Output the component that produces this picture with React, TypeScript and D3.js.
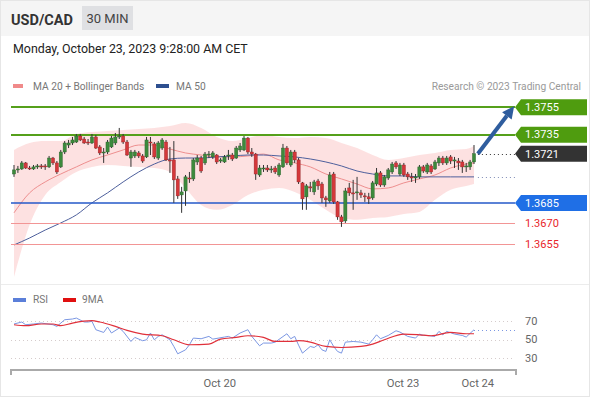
import React from 'react';
import * as d3 from 'd3';

// ---------- price data (30 min candles) ----------
const opens = [1.37062,1.37092,1.37099,1.37143,1.37106,1.37099,1.37114,1.37121,1.37121,1.37114,1.37179,1.37143,1.37114,1.37223,1.37274,1.37289,1.37296,1.37340,1.37318,1.37296,1.37289,1.37333,1.37260,1.37216,1.37223,1.37260,1.37289,1.37333,1.37340,1.37296,1.37179,1.37194,1.37216,1.37194,1.37187,1.37296,1.37282,1.37179,1.37252,1.37296,1.37165,1.37165,1.37026,1.36909,1.36938,1.37033,1.37026,1.37150,1.37179,1.37143,1.37201,1.37187,1.37201,1.37157,1.37150,1.37194,1.37201,1.37179,1.37238,1.37238,1.37325,1.37223,1.37208,1.37055,1.37099,1.37106,1.37092,1.37106,1.37055,1.37114,1.37252,1.37128,1.37223,1.37165,1.36997,1.36895,1.36968,1.36931,1.37011,1.36989,1.36887,1.36865,1.37062,1.36858,1.36748,1.36719,1.36960,1.36924,1.36924,1.36924,1.36902,1.36895,1.36887,1.36989,1.37070,1.36982,1.37033,1.37077,1.37143,1.37062,1.37128,1.37062,1.37041,1.37033,1.37041,1.37114,1.37077,1.37121,1.37099,1.37143,1.37179,1.37143,1.37187,1.37157,1.37157,1.37150,1.37114,1.37114,1.37150];
const highs = [1.37128,1.37121,1.37157,1.37150,1.37121,1.37128,1.37135,1.37135,1.37135,1.37194,1.37187,1.37157,1.37238,1.37303,1.37311,1.37333,1.37355,1.37355,1.37333,1.37318,1.37355,1.37347,1.37274,1.37252,1.37311,1.37340,1.37362,1.37399,1.37355,1.37311,1.37238,1.37238,1.37230,1.37208,1.37333,1.37333,1.37296,1.37303,1.37325,1.37311,1.37260,1.37303,1.37048,1.36968,1.37055,1.37077,1.37179,1.37201,1.37194,1.37223,1.37230,1.37230,1.37208,1.37179,1.37201,1.37238,1.37216,1.37267,1.37289,1.37340,1.37333,1.37252,1.37216,1.37128,1.37128,1.37128,1.37121,1.37121,1.37143,1.37282,1.37267,1.37238,1.37238,1.37179,1.37004,1.36989,1.37004,1.37019,1.37026,1.37004,1.36902,1.37077,1.37077,1.36865,1.36763,1.36960,1.36997,1.37019,1.37041,1.36946,1.36924,1.36924,1.37011,1.37106,1.37084,1.37055,1.37106,1.37150,1.37157,1.37143,1.37143,1.37077,1.37070,1.37062,1.37128,1.37128,1.37143,1.37135,1.37165,1.37194,1.37194,1.37194,1.37201,1.37187,1.37179,1.37165,1.37143,1.37165,1.37274];
const lows = [1.37041,1.37070,1.37092,1.37099,1.37092,1.37092,1.37099,1.37099,1.37092,1.37106,1.37128,1.37062,1.37106,1.37208,1.37252,1.37274,1.37289,1.37303,1.37282,1.37274,1.37282,1.37245,1.37201,1.37143,1.37208,1.37252,1.37274,1.37318,1.37282,1.37194,1.37114,1.37179,1.37179,1.37143,1.37179,1.37201,1.37172,1.37165,1.37238,1.37157,1.37070,1.36851,1.36880,1.36778,1.36829,1.36997,1.37011,1.37128,1.37070,1.37128,1.37179,1.37172,1.37135,1.37143,1.37143,1.37165,1.37157,1.37172,1.37223,1.37230,1.37208,1.37187,1.37019,1.37041,1.37077,1.37077,1.37070,1.37062,1.37041,1.37106,1.37128,1.37114,1.37143,1.36989,1.36800,1.36800,1.36931,1.36909,1.36946,1.36851,1.36822,1.36851,1.36843,1.36727,1.36675,1.36704,1.36902,1.36800,1.36873,1.36887,1.36858,1.36843,1.36873,1.36975,1.36968,1.36968,1.37019,1.37062,1.37099,1.37048,1.37041,1.37019,1.37004,1.36997,1.37026,1.37070,1.37062,1.37062,1.37092,1.37121,1.37128,1.37128,1.37135,1.37106,1.37092,1.37070,1.37077,1.37092,1.37135];
const closes = [1.37092,1.37099,1.37143,1.37106,1.37099,1.37114,1.37121,1.37118,1.37114,1.37179,1.37143,1.37077,1.37223,1.37289,1.37289,1.37311,1.37340,1.37311,1.37289,1.37292,1.37333,1.37252,1.37216,1.37223,1.37296,1.37325,1.37333,1.37340,1.37296,1.37201,1.37223,1.37223,1.37194,1.37157,1.37311,1.37289,1.37187,1.37289,1.37311,1.37165,1.37157,1.37019,1.36902,1.36931,1.37041,1.37026,1.37165,1.37179,1.37084,1.37208,1.37208,1.37216,1.37150,1.37165,1.37187,1.37201,1.37172,1.37252,1.37267,1.37325,1.37223,1.37208,1.37062,1.37106,1.37106,1.37092,1.37099,1.37077,1.37128,1.37252,1.37143,1.37223,1.37165,1.37004,1.36880,1.36975,1.36960,1.37004,1.36975,1.36887,1.36873,1.37055,1.36858,1.36748,1.36712,1.36938,1.36924,1.36916,1.36931,1.36909,1.36895,1.36880,1.36997,1.37070,1.36982,1.37041,1.37092,1.37135,1.37114,1.37128,1.37055,1.37041,1.37033,1.37041,1.37114,1.37084,1.37128,1.37077,1.37150,1.37179,1.37143,1.37179,1.37157,1.37165,1.37143,1.37114,1.37121,1.37150,1.37210];

// ---------- indicators (sampled at candle indices) ----------
const indIdx = [0,4,8,12,16,20,24,28,32,36,40,44,48,52,56,60,64,68,72,76,80,84,88,92,96,100,104,108,112,116,118];
const ma20 = [1.36778,1.36924,1.37004,1.37062,1.37114,1.37165,1.37201,1.37238,1.37274,1.37274,1.37245,1.37216,1.37201,1.37187,1.37187,1.37194,1.37208,1.37165,1.37143,1.37114,1.37062,1.37026,1.36989,1.36953,1.36960,1.36997,1.37026,1.37055,1.37106,1.37135,1.37143];
const bbUpper = [1.37238,1.37289,1.37303,1.37303,1.37355,1.37370,1.37377,1.37384,1.37391,1.37399,1.37413,1.37435,1.37399,1.37333,1.37303,1.37325,1.37347,1.37333,1.37325,1.37333,1.37325,1.37289,1.37252,1.37201,1.37165,1.37179,1.37201,1.37216,1.37238,1.37245,1.37267];
const bbLower = [1.36309,1.36691,1.36909,1.37004,1.37077,1.37114,1.37128,1.37121,1.37114,1.37106,1.37077,1.36960,1.36836,1.36800,1.36836,1.36909,1.36946,1.36960,1.36931,1.36873,1.36800,1.36740,1.36727,1.36740,1.36748,1.36770,1.36785,1.36873,1.36946,1.36975,1.36989];
const ma50 = [1.36543,1.36594,1.36652,1.36704,1.36763,1.36851,1.36924,1.37004,1.37077,1.37135,1.37172,1.37179,1.37179,1.37187,1.37194,1.37201,1.37201,1.37194,1.37187,1.37172,1.37150,1.37121,1.37084,1.37062,1.37048,1.37048,1.37041,1.37041,1.37041,1.37041,1.37041];

// ---------- RSI ----------
const rsiIdx = [0,2,3,5,7,10,11,13,15,16,18,19,20,21,23,24,25,27,28,30,31,33,34,35,36,37,38,40,41,42,44,45,46,48,50,51,54,55,56,58,60,61,63,64,66,67,70,71,72,73,74,76,77,78,79,80,81,82,83,84,85,87,89,91,92,93,94,96,98,99,101,103,104,105,106,108,109,110,111,113,115,116,118];
const rsiVal = [66.5,68.6,65.7,66.5,67.5,65.7,63.9,71,71.8,72.8,68.6,68.6,69.3,60.4,57.5,63.3,56.9,62.2,58.6,47.9,52.2,48.7,49.7,56.9,49.7,53.3,55,49.7,42.6,34.8,39,44.4,51.5,50.8,53.3,50.4,52.6,53.3,51.5,56.9,60.4,53.3,43.3,46.2,46.2,47.2,56.1,50.8,53.3,44,35.5,42.6,41.5,44.4,39,37.3,49.7,42.6,37.3,35.5,47.2,47.9,47.2,45.1,49.7,55,50.8,54.3,59.3,57.9,53.3,51.5,55.8,54.3,54.3,53.3,58.6,55,58.6,55.8,54.3,52.6,60.4];
const maRsiIdx = [0,3,7,10,12,15,20,22,26,29,33,38,41,45,50,53,57,60,64,67,71,73,76,80,84,89,92,95,100,104,107,112,116,118];
const maRsiVal = [65.7,64.7,66.5,66.5,64.7,67.5,70,68.6,63.9,59.7,55.8,54,49.7,44.4,45.1,50.4,52.2,54,52.2,47.9,47.9,48.7,47.2,42.6,41.5,42.6,45.1,49.7,55.8,55,54,57.5,56.1,56.1];
const rsiLevels = [70, 50, 30];

// ---------- key levels ----------
const levelValues = [1.3755, 1.3735, 1.3685, 1.3670, 1.3655];
const levelTypes = ['resistance', 'resistance', 'pivot', 'support', 'support'];
const lastPriceLabel = 1.3721;

// ---------- time axis ----------
const timeTickPos = [52.8, 99.8, 119];
const timeTickLabels = ['Oct 20', 'Oct 23', 'Oct 24'];

const FONT = 'Roboto, Arial, sans-serif';

export default function App() {
  const x = d3.scaleLinear().domain([0, 118]).range([14, 474]);
  const y = d3.scaleLinear().domain([1.3655, 1.3755]).range([244, 107.3]);
  const yR = d3.scaleLinear().domain([30, 70]).range([358.3, 320.7]);
  const plotL = 11, plotR = 515;
  const crisp = (v: number) => Math.round(v) + 0.5;

  const ind = indIdx.map((i, k) => ({ i, ma20: ma20[k], up: bbUpper[k], lo: bbLower[k], ma50: ma50[k] }));
  const band = d3.area<any>().x(d => x(d.i)).y0(d => y(d.lo)).y1(d => y(d.up)).curve(d3.curveMonotoneX)(ind) || '';
  const mk = (key: string) => d3.line<any>().x(d => x(d.i)).y(d => y(d[key])).curve(d3.curveMonotoneX)(ind) || '';

  const rsiPts = rsiIdx.map((i, k) => [x(i), yR(rsiVal[k])] as [number, number]);
  const maPts = maRsiIdx.map((i, k) => [x(i), yR(maRsiVal[k])] as [number, number]);
  const rsiPath = d3.line()(rsiPts) || '';
  const maPath = d3.line().curve(d3.curveMonotoneX)(maPts) || '';

  const styleFor = (t: string) => {
    if (t === 'resistance') return { line: '#55a01b', w: 2, box: '#4f9c0f', text: '#fff' };
    if (t === 'pivot') return { line: '#2458c8', w: 1.5, box: '#1f6fe6', text: '#fff' };
    return { line: '#f29595', w: 1, box: null, text: '#e8262b' };
  };

  const labelPath = (cy: number) =>
    `M${plotR},${cy} L${plotR + 6},${cy - 8} L587,${cy - 8} L587,${cy + 8} L${plotR + 6},${cy + 8} Z`;

  const lastIdx = closes.length - 1;
  const lastY = y(lastPriceLabel);
  const ma50Last = y(ma50[ma50.length - 1]);
  const rsiLast = yR(rsiVal[rsiVal.length - 1]);

  // arrow from last candle toward first resistance
  const ax0 = x(lastIdx + 1), ay0 = y(closes[lastIdx]);
  const ax1 = x(128.3), ay1 = y(levelValues[0]) - 1;
  const dx = ax1 - ax0, dy = ay1 - ay0, len = Math.hypot(dx, dy);
  const ux = dx / len, uy = dy / len;
  const hb = [ax1 - 12 * ux, ay1 - 12 * uy];
  const head = `M${ax1},${ay1} L${hb[0] + 6 * -uy},${hb[1] + 6 * ux} L${hb[0] - 6 * -uy},${hb[1] - 6 * ux} Z`;

  return (
    <svg width={590} height={400} style={{ position: 'absolute', left: 0, top: 0, background: '#fff' }} fontFamily={FONT}>
      {/* header */}
      <rect x={0} y={0} width={590} height={36} fill="#f5f5f5" />
      <text x={11} y={25} fontSize={14.5} fontWeight="bold" fill="#333">USD/CAD</text>
      <rect x={82} y={6} width={51} height={24} fill="#dfe0e3" />
      <text x={107.5} y={23} fontSize={13} fill="#444" textAnchor="middle">30 MIN</text>
      <text x={13} y={53} fontSize={12.4} fill="#222">Monday, October 23, 2023 9:28:00 AM CET</text>

      {/* legend */}
      <rect x={13} y={84} width={10} height={4} fill="#f08a8a" />
      <text x={33} y={90} fontSize={10.2} fill="#777">MA 20 + Bollinger Bands</text>
      <rect x={156} y={84} width={13} height={4} fill="#2d4f8f" />
      <text x={176} y={90} fontSize={10.2} fill="#777">MA 50</text>
      <text x={581} y={90} fontSize={10.2} fill="#999" textAnchor="end">Research © 2023 Trading Central</text>

      {/* bollinger band */}
      <path d={band} fill="#fddcdc" opacity={0.85} />
      <path d={mk('ma20')} fill="none" stroke="#ee8f8f" strokeWidth={1} />
      <path d={mk('ma50')} fill="none" stroke="#4d5f9c" strokeWidth={1} />

      {/* level lines */}
      {levelValues.map((v, k) => {
        const s = styleFor(levelTypes[k]);
        const yy = s.w === 1 ? crisp(y(v)) : Math.round(y(v));
        return <line key={'l' + k} x1={plotL} x2={plotR} y1={yy} y2={yy} stroke={s.line} strokeWidth={s.w} />;
      })}

      {/* candles */}
      {opens.map((o, i) => {
        const c = closes[i];
        const up = c >= o;
        const cx = x(i);
        const top = y(Math.max(o, c));
        const bot = y(Math.min(o, c));
        return (
          <g key={'c' + i}>
            <line x1={cx} x2={cx} y1={y(highs[i])} y2={y(lows[i])} stroke="#333" strokeWidth={1} />
            <rect x={cx - 1.6} y={top} width={3.2} height={Math.max(1, bot - top)}
              fill={up ? '#3c8a3c' : '#d4373a'} stroke={up ? '#2b5f2b' : '#8f2326'} strokeWidth={0.4} />
          </g>
        );
      })}

      {/* dotted extensions */}
      <line x1={ax0} x2={plotR} y1={crisp(lastY)} y2={crisp(lastY)} stroke="#333" strokeWidth={1} strokeDasharray="1,3" />
      <line x1={ax0} x2={plotR} y1={crisp(ma50Last)} y2={crisp(ma50Last)} stroke="#7f8bb5" strokeWidth={1} strokeDasharray="1,3" />

      {/* arrow */}
      <line x1={ax0} y1={ay0} x2={hb[0]} y2={hb[1]} stroke="#2f5d9e" strokeWidth={4} />
      <path d={head} fill="#2f5d9e" />

      {/* level labels */}
      {levelValues.map((v, k) => {
        const s = styleFor(levelTypes[k]);
        const cy = y(v);
        return (
          <g key={'lb' + k}>
            {s.box && <path d={labelPath(cy)} fill={s.box} />}
            <text x={525} y={cy} dy="0.35em" fontSize={11} fill={s.text}>{v.toFixed(4)}</text>
          </g>
        );
      })}
      <path d={labelPath(lastY)} fill="#333" />
      <text x={525} y={lastY} dy="0.35em" fontSize={11} fill="#fff">{lastPriceLabel.toFixed(4)}</text>

      {/* panel separator */}
      <line x1={0} x2={590} y1={284.5} y2={284.5} stroke="#ececec" strokeWidth={1} />

      {/* RSI legend */}
      <rect x={13} y={298} width={13} height={4} fill="#5b7fd9" />
      <text x={33} y={303} fontSize={10.2} fill="#777">RSI</text>
      <rect x={63} y={298} width={13} height={4} fill="#e01010" />
      <text x={82} y={303} fontSize={10.2} fill="#777">9MA</text>

      {/* RSI levels */}
      {rsiLevels.map((v) => (
        <g key={'r' + v}>
          <line x1={plotL} x2={plotR} y1={crisp(yR(v))} y2={crisp(yR(v))} stroke="#d5cccc" strokeWidth={1} strokeDasharray="1,3" />
          <text x={525} y={yR(v)} dy="0.35em" fontSize={11} fill="#666">{v}</text>
        </g>
      ))}
      <path d={rsiPath} fill="none" stroke="#7b97e3" strokeWidth={1} />
      <path d={maPath} fill="none" stroke="#e0303a" strokeWidth={1.2} />
      <line x1={x(lastIdx)} x2={plotR} y1={crisp(rsiLast)} y2={crisp(rsiLast)} stroke="#7b97e3" strokeWidth={1} strokeDasharray="1,3" />

      {/* time axis */}
      <path d={`M${plotL},375 L${plotL},370 L${plotR + 1},370 L${plotR + 1},375`} fill="none" stroke="#aaa" strokeWidth={2} />
      {timeTickPos.map((p, k) => (
        <text key={'t' + k} x={x(p)} y={387} fontSize={11.2} fill="#666" textAnchor="middle">{timeTickLabels[k]}</text>
      ))}

      {/* frame */}
      <rect x={0.5} y={0.5} width={589} height={396} fill="none" stroke="#e6e6e6" />
    </svg>
  );
}
